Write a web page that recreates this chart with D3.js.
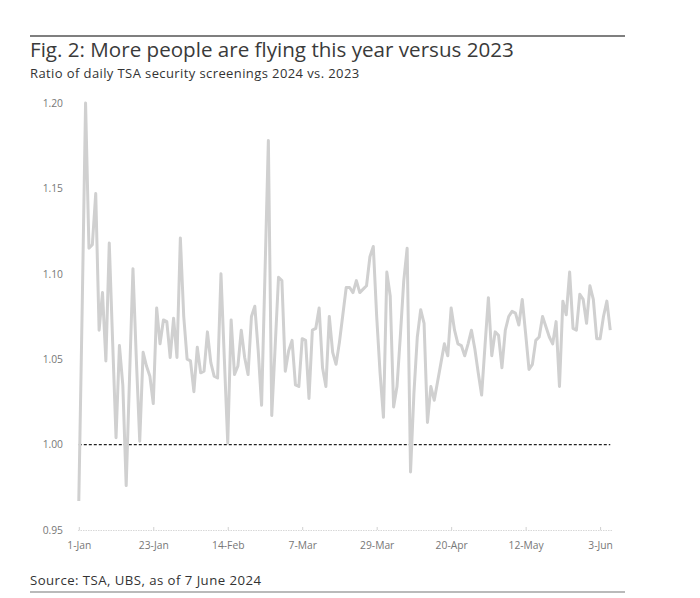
<!DOCTYPE html>
<html>
<head>
<meta charset="utf-8">
<script src="https://cdn.jsdelivr.net/npm/d3@7/dist/d3.min.js"></script>
<style>
  html, body { margin: 0; padding: 0; background: #fff; }
  svg { display: block; }
  text { font-family: "Open Sans", "Noto Sans", sans-serif; }
</style>
</head>
<body>
<svg id="chart" width="700" height="598"></svg>
<script>
const title = "Fig. 2: More people are flying this year versus 2023";
const subtitle = "Ratio of daily TSA security screenings 2024 vs. 2023";
const source = "Source: TSA, UBS, as of 7 June 2024";

const startDate = "2024-01-01";
const ratios = [
  0.967, 1.080, 1.200, 1.115, 1.117, 1.147, 1.067, 1.089, 1.049, 1.118,
  1.060, 1.004, 1.058, 1.035, 0.976, 1.040, 1.103, 1.050, 1.002, 1.054,
  1.046, 1.040, 1.024, 1.080, 1.059, 1.073, 1.072, 1.051, 1.074, 1.051,
  1.121, 1.075, 1.050, 1.049, 1.031, 1.057, 1.042, 1.043, 1.066, 1.048,
  1.040, 1.039, 1.100, 1.050, 1.001, 1.073, 1.041, 1.046, 1.067, 1.051,
  1.041, 1.075, 1.081, 1.055, 1.023, 1.100, 1.178, 1.017, 1.057, 1.098,
  1.096, 1.043, 1.055, 1.061, 1.035, 1.034, 1.062, 1.061, 1.027, 1.067,
  1.068, 1.080, 1.045, 1.034, 1.075, 1.054, 1.047, 1.060, 1.076, 1.092,
  1.092, 1.089, 1.096, 1.089, 1.091, 1.093, 1.110, 1.116, 1.075, 1.042,
  1.016, 1.101, 1.087, 1.022, 1.034, 1.064, 1.096, 1.115, 0.984, 1.030,
  1.063, 1.079, 1.071, 1.013, 1.034, 1.026, 1.037, 1.048, 1.059, 1.052,
  1.080, 1.067, 1.059, 1.058, 1.052, 1.059, 1.067, 1.056, 1.042, 1.029,
  1.058, 1.086, 1.052, 1.066, 1.064, 1.045, 1.067, 1.075, 1.078, 1.077,
  1.070, 1.085, 1.065, 1.044, 1.047, 1.061, 1.063, 1.075, 1.069, 1.063,
  1.059, 1.072, 1.034, 1.084, 1.076, 1.101, 1.068, 1.067, 1.088, 1.085,
  1.071, 1.093, 1.085, 1.062, 1.062, 1.075, 1.084, 1.067
];
const yTicks = [0.95, 1.00, 1.05, 1.10, 1.15, 1.20];
const xTickLabels = ["1-Jan", "23-Jan", "14-Feb", "7-Mar", "29-Mar", "20-Apr", "12-May", "3-Jun"];
const xTickDates = ["2024-01-01", "2024-01-23", "2024-02-14", "2024-03-07", "2024-03-29", "2024-04-20", "2024-05-12", "2024-06-03"];
const baseline = 1.0;

const parse = d3.utcParse("%Y-%m-%d");
const t0 = parse(startDate);
const data = ratios.map((v, i) => ({ date: d3.utcDay.offset(t0, i), value: v }));

const svg = d3.select("#chart");

const x = d3.scaleUtc()
  .domain([parse(xTickDates[0]), parse(xTickDates[xTickDates.length - 1])])
  .range([78.8, 600.1]);
const y = d3.scaleLinear().domain([0.95, 1.20]).range([530, 103]);

// Top and bottom rules
svg.append("line").attr("x1", 30).attr("x2", 625).attr("y1", 36).attr("y2", 36)
  .attr("stroke", "#555").attr("stroke-width", 1.3);
svg.append("line").attr("x1", 30).attr("x2", 625).attr("y1", 592).attr("y2", 592)
  .attr("stroke", "#777").attr("stroke-width", 1.2);

svg.append("text").attr("x", 30).attr("y", 57).attr("font-size", 20.6)
  .attr("fill", "#3a3a3a").text(title);
svg.append("text").attr("x", 30).attr("y", 77.5).attr("font-size", 13)
  .attr("letter-spacing", 0.4).attr("fill", "#333").text(subtitle);
svg.append("text").attr("x", 30).attr("y", 584.5).attr("font-size", 13.2)
  .attr("letter-spacing", 0.45).attr("fill", "#333").text(source);

// Y axis labels
const yAxis = d3.axisLeft(y).tickValues(yTicks).tickFormat(d3.format(".2f")).tickSize(0).tickPadding(0);
const gy = svg.append("g").attr("transform", "translate(63,0)").call(yAxis);
gy.select(".domain").remove();
gy.selectAll("text").attr("font-size", 10.3).attr("fill", "#777")
  .attr("font-family", "\"Open Sans\", sans-serif");

// X axis
const xAxis = d3.axisBottom(x)
  .tickValues(xTickDates.map(parse))
  .tickFormat((d, i) => xTickLabels[i])
  .tickSizeInner(-3).tickSizeOuter(0).tickPadding(12);
const gx = svg.append("g").attr("transform", "translate(0,530)").call(xAxis);
gx.select(".domain").attr("d", `M78,0.5H612`).attr("stroke", "#d8d8d8")
  .attr("stroke-dasharray", "1.5,1");
gx.selectAll(".tick line").attr("stroke", "#d0d0d0");
gx.selectAll("text").attr("font-size", 10.3).attr("fill", "#777")
  .attr("font-family", "\"Open Sans\", sans-serif");

// Baseline at 1.00
svg.append("line")
  .attr("x1", x(data[0].date)).attr("x2", x(data[data.length - 1].date))
  .attr("y1", y(baseline)).attr("y2", y(baseline))
  .attr("stroke", "#222").attr("stroke-width", 1.1).attr("stroke-dasharray", "3,2");

// Series line
const line = d3.line().x(d => x(d.date)).y(d => y(d.value));
svg.append("path").datum(data).attr("d", line)
  .attr("fill", "none").attr("stroke", "#d0d0d0").attr("stroke-width", 3)
  .attr("stroke-linejoin", "round");
</script>
</body>
</html>
